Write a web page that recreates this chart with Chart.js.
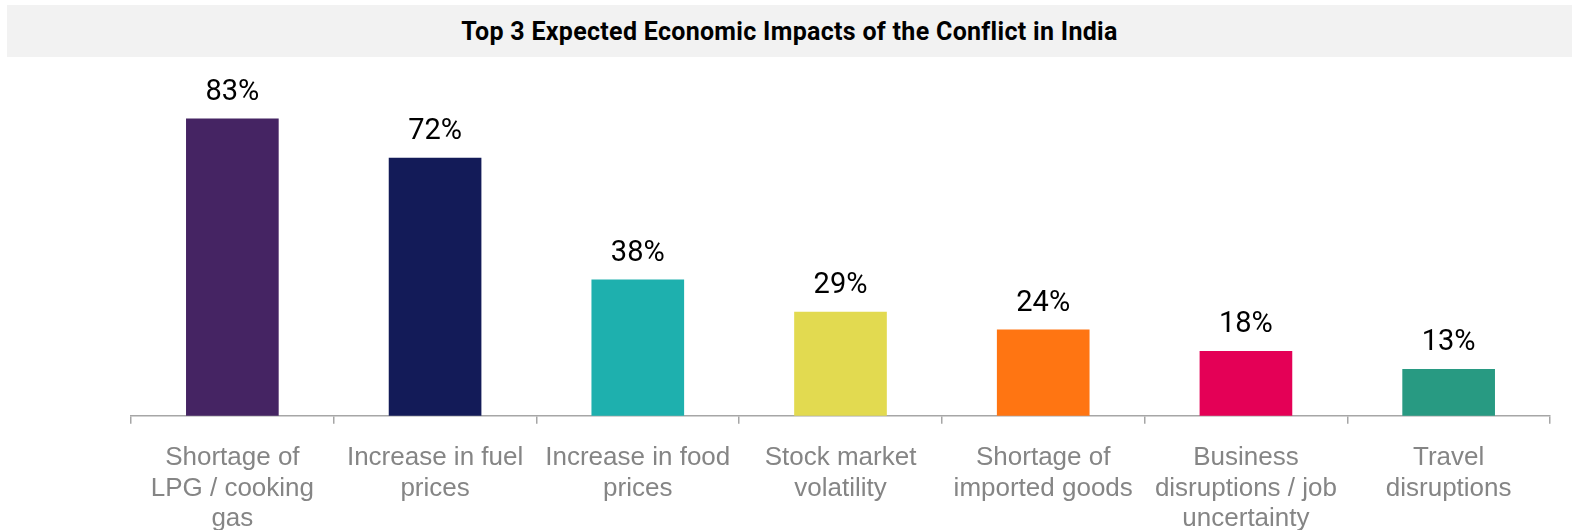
<!DOCTYPE html>
<html lang="en">
<head>
  <meta charset="UTF-8" />
  <title>Top 3 Expected Economic Impacts</title>
  <script src="https://cdn.jsdelivr.net/npm/chart.js"></script>
  <style>
    html, body { margin: 0; padding: 0; background: #fff; }
    #wrap { position: relative; width: 1580px; height: 530px; overflow: hidden; }
    #titleBar {
      position: absolute; left: 7px; top: 5px; width: 1565px; height: 52px;
      background: #f2f2f2; text-align: center; line-height: 54px;
      font-family: Roboto, sans-serif; font-weight: 700; font-size: 25px; color: #000;
      letter-spacing: 0.3px;
    }
    /* canvas a bit taller than the page: Chart.js reserves the tick padding twice */
    #chartBox { position: absolute; left: 0; top: 0; width: 1580px; height: 553px; }
  </style>
</head>
<body>
<div id="wrap">
  <div id="titleBar">Top 3 Expected Economic Impacts of the Conflict in India</div>
  <div id="chartBox"><canvas id="bars"></canvas></div>
</div>

<script>
  const categories = [
    ['Shortage of', 'LPG / cooking', 'gas'],
    ['Increase in fuel', 'prices'],
    ['Increase in food', 'prices'],
    ['Stock market', 'volatility'],
    ['Shortage of', 'imported goods'],
    ['Business', 'disruptions / job', 'uncertainty'],
    ['Travel', 'disruptions']
  ];
  const shares = [83, 72, 38, 29, 24, 18, 13];
  const barColors = ['#452463', '#131b58', '#1eb0ae', '#e2da50', '#ff7512', '#e40056', '#289a82'];

  // value labels above each bar
  const valueLabels = {
    id: 'valueLabels',
    afterDatasetsDraw(chart) {
      const ctx = chart.ctx;
      const meta = chart.getDatasetMeta(0);
      ctx.save();
      ctx.font = '400 29px Roboto, sans-serif';
      ctx.fillStyle = '#000';
      ctx.textAlign = 'center';
      ctx.textBaseline = 'alphabetic';
      meta.data.forEach((bar, i) => {
        ctx.fillText(shares[i] + '%', bar.x, bar.y - 19);
      });
      ctx.restore();
    }
  };

  new Chart(document.getElementById('bars'), {
    type: 'bar',
    data: {
      labels: categories,
      datasets: [{
        data: shares,
        backgroundColor: barColors,
        borderWidth: 0,
        barThickness: 92
      }]
    },
    options: {
      responsive: true,
      maintainAspectRatio: false,
      animation: false,
      layout: { padding: { left: 131, right: 30, top: 58, bottom: 0 } },
      plugins: {
        legend: { display: false },
        tooltip: { enabled: false }
      },
      scales: {
        x: {
          offset: true,
          border: { display: true, color: '#a6a6a6', width: 1.5 },
          grid: {
            display: true,
            offset: true,
            drawOnChartArea: false,
            drawTicks: true,
            tickLength: 8,
            color: '#a6a6a6',
            lineWidth: 1.5
          },
          ticks: {
            color: '#858585',
            padding: 19,
            maxRotation: 0,
            autoSkip: false,
            font: { family: '"Liberation Sans", Arial, sans-serif', size: 26, lineHeight: 1.17 }
          }
        },
        y: {
          display: false,
          min: 0,
          max: 100
        }
      }
    },
    plugins: [valueLabels]
  });
</script>
</body>
</html>
